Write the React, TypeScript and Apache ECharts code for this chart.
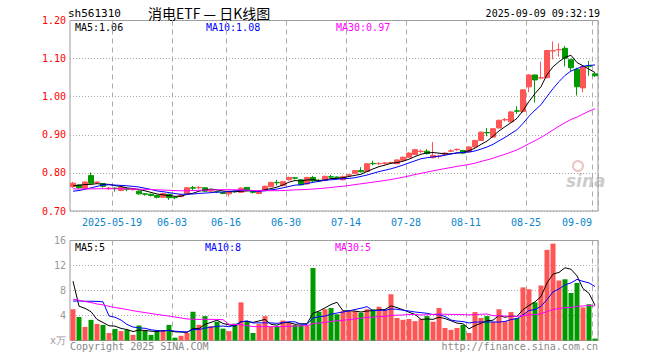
import { useEffect, useRef } from 'react';
import * as echarts from 'echarts';

const dates = [
  '2025-05-08','2025-05-09','2025-05-12','2025-05-13','2025-05-14','2025-05-15','2025-05-16','2025-05-19','2025-05-20','2025-05-21',
  '2025-05-22','2025-05-23','2025-05-26','2025-05-27','2025-05-28','2025-05-29','2025-05-30','2025-06-03','2025-06-04','2025-06-05',
  '2025-06-06','2025-06-09','2025-06-10','2025-06-11','2025-06-12','2025-06-13','2025-06-16','2025-06-17','2025-06-18','2025-06-19',
  '2025-06-20','2025-06-23','2025-06-24','2025-06-25','2025-06-26','2025-06-27','2025-06-30','2025-07-01','2025-07-02','2025-07-03',
  '2025-07-04','2025-07-07','2025-07-08','2025-07-09','2025-07-10','2025-07-11','2025-07-14','2025-07-15','2025-07-16','2025-07-17',
  '2025-07-18','2025-07-21','2025-07-22','2025-07-23','2025-07-24','2025-07-25','2025-07-28','2025-07-29','2025-07-30','2025-07-31',
  '2025-08-01','2025-08-04','2025-08-05','2025-08-06','2025-08-07','2025-08-08','2025-08-11','2025-08-12','2025-08-13','2025-08-14',
  '2025-08-15','2025-08-18','2025-08-19','2025-08-20','2025-08-21','2025-08-22','2025-08-25','2025-08-26','2025-08-27','2025-08-28',
  '2025-08-29','2025-09-01','2025-09-02','2025-09-03','2025-09-04','2025-09-05','2025-09-08','2025-09-09'
];

const labelDates = ['2025-05-19','2025-06-03','2025-06-16','2025-06-30','2025-07-14','2025-07-28','2025-08-11','2025-08-25','2025-09-09'];

const opens = [
  .764,.768,.760,.793,.775,.772,.759,.760,.754,.758,
  .756,.752,.745,.744,.741,.736,.744,.736,.738,.745,
  .761,.761,.761,.752,.751,.748,.745,.752,.749,.762,
  .751,.746,.756,.764,.775,.767,.782,.787,.782,.771,
  .788,.780,.780,.790,.789,.782,.794,.799,.806,.804,
  .825,.824,.825,.826,.824,.833,.841,.848,.856,.857,
  .840,.843,.848,.857,.861,.859,.855,.868,.885,.906,
  .894,.918,.939,.934,.963,.961,1.026,1.057,1.049,1.050,
  1.120,1.123,1.127,1.097,1.072,1.023,1.081,1.060
];
const closes = [
  .773,.761,.776,.773,.776,.765,.760,.759,.762,.757,
  .757,.745,.744,.741,.736,.746,.735,.735,.742,.761,
  .760,.762,.752,.753,.750,.746,.752,.751,.760,.754,
  .749,.751,.765,.775,.774,.777,.788,.786,.769,.788,
  .779,.779,.791,.789,.788,.790,.795,.806,.803,.824,
  .824,.825,.826,.827,.834,.841,.852,.861,.857,.851,
  .846,.844,.852,.858,.862,.852,.868,.885,.907,.905,
  .916,.938,.940,.960,.962,1.018,1.057,1.044,1.050,1.121,
  1.121,1.124,1.101,1.076,1.026,1.079,1.080,1.055
];
const lows = [
  .760,.758,.757,.772,.772,.761,.755,.751,.752,.752,
  .753,.743,.740,.738,.733,.734,.729,.731,.736,.744,
  .755,.757,.750,.749,.747,.744,.738,.748,.747,.752,
  .746,.744,.754,.762,.767,.765,.780,.783,.767,.769,
  .777,.777,.778,.786,.785,.780,.791,.797,.801,.803,
  .820,.821,.822,.823,.823,.831,.840,.847,.852,.848,
  .838,.838,.846,.855,.858,.849,.853,.866,.884,.896,
  .892,.916,.935,.932,.955,.958,1.012,.985,1.046,1.048,
  1.098,1.105,1.080,1.068,1.003,1.012,1.055,1.052
];
const highs = [
  .776,.770,.778,.801,.778,.773,.763,.762,.764,.761,
  .760,.754,.747,.745,.742,.748,.745,.738,.744,.763,
  .766,.765,.762,.756,.753,.750,.754,.754,.762,.763,
  .753,.753,.767,.777,.782,.779,.790,.789,.784,.790,
  .792,.783,.793,.795,.791,.793,.797,.808,.815,.826,
  .832,.828,.829,.830,.836,.843,.854,.863,.862,.862,
  .881,.848,.854,.862,.864,.860,.870,.887,.909,.918,
  .918,.940,.944,.963,.975,1.020,1.059,1.058,1.092,1.123,
  1.145,1.140,1.133,1.100,1.076,1.081,1.094,1.062
];
// volume in 万
const volumes = [
  5.0,3.76,2.17,3.3,2.65,2.5,1.2,1.85,1.5,1.7,
  0.9,2.4,1.55,0.9,1.5,1.55,2.5,0.45,0.75,1.2,
  4.6,2.5,3.9,2.3,3.0,1.9,1.5,2.7,6.1,3.0,
  1.2,2.65,3.9,2.2,2.3,3.2,2.8,2.5,2.5,2.4,
  11.6,4.6,5.0,5.2,4.2,4.7,4.75,4.7,4.45,5.0,
  5.0,5.4,4.9,7.4,3.6,3.3,3.45,3.1,3.45,3.9,
  3.0,5.2,2.0,1.7,2.0,2.5,1.2,4.55,3.6,3.9,
  3.0,5.0,3.1,4.55,3.6,8.5,8.2,6.1,8.8,14.5,
  15.5,9.6,9.8,7.6,9.2,5.3,5.8,0.3
];
// estimated history before the visible window (needed for the moving averages)
const prevCloses = [
  .770,.768,.772,.765,.762,.760,.766,.763,.758,.761,
  .764,.760,.757,.759,.762,.755,.758,.760,.752,.748,
  .744,.742,.738,.736,.730,.752,.768,.770,.767
];
const prevVolumes = [
  9,8.5,8,9.5,7,8,7.5,6,7,6.5,
  7,6,5.5,6,5.5,6,5,5.5,6,6,
  3.4,2.8,3.2,3.0,3.1,23.8,3.9,6.0,8.8
];

const priceMin = 0.7, priceMax = 1.2, priceStep = 0.1;
const volMin = 0, volMax = 16, volStep = 4;

const RED = '#ff5555';
const GREEN = '#009900';
const MONO = '"DejaVu Sans Mono", "Liberation Mono", monospace';
const CJK = '"Noto Sans CJK SC", sans-serif';

function movingAvg(hist: number[], data: number[], n: number): number[] {
  const all = hist.concat(data);
  return data.map((_, i) => {
    const end = hist.length + i;
    let s = 0;
    for (let k = end - n + 1; k <= end; k++) s += all[k];
    return +(s / n).toFixed(4);
  });
}

export default function App() {
  const ref = useRef<HTMLDivElement>(null);
  useEffect(() => {
    if (!ref.current) return;
    const chart = echarts.init(ref.current, null, { renderer: 'svg' });
    const ma5 = movingAvg(prevCloses, closes, 5);
    const ma10 = movingAvg(prevCloses, closes, 10);
    const ma30 = movingAvg(prevCloses, closes, 30);
    const vma5 = movingAvg(prevVolumes, volumes, 5);
    const vma10 = movingAvg(prevVolumes, volumes, 10);
    const vma30 = movingAvg(prevVolumes, volumes, 30);
    const last = dates.length - 1;
    const labelIdx = labelDates.map((d) => dates.indexOf(d));
    const isUp = (i: number) => closes[i] >= opens[i];

    const xCommon = (showLabel: boolean, gridIndex: number) => ({
      type: 'category' as const,
      gridIndex,
      data: dates,
      boundaryGap: true,
      axisLine: { show: false },
      axisTick: { show: false },
      splitLine: {
        show: true,
        interval: (i: number) => labelIdx.includes(i),
        lineStyle: { color: '#aaaaaa', type: [5, 4] as any, width: 1 },
      },
      axisLabel: showLabel
        ? {
            show: true,
            interval: (i: number) => labelIdx.includes(i),
            margin: 6,
            formatter: (v: string, i: number) => {
              const t = i === labelIdx[0] ? v : v.slice(5);
              return i === last ? `{r|${t}}` : `{c|${t}}`;
            },
            rich: {
              c: { padding: [0, 6, 0, 0], color: '#0a84cc', fontFamily: MONO, fontSize: 10 },
              r: { padding: [0, 36, 0, 0], color: '#0a84cc', fontFamily: MONO, fontSize: 10 },
            },
          }
        : { show: false },
    });

    const lineS = (data: number[], color: string, xi: number, yi: number) => ({
      type: 'line' as const,
      xAxisIndex: xi,
      yAxisIndex: yi,
      data,
      showSymbol: false,
      symbol: 'none',
      lineStyle: { color, width: 1 },
      z: 5,
    });

    const txt = (text: string, x: number, y: number, color: string, size = 10, align = 'left', family = MONO) => ({
      type: 'text' as const,
      x,
      y,
      silent: true,
      style: { text, fill: color, fontSize: size, fontFamily: family, align, verticalAlign: 'middle' },
    });

    chart.setOption({
      animation: false,
      backgroundColor: '#ffffff',
      grid: [
        { left: 70, top: 20.5, width: 528, height: 190.5, show: true, borderColor: '#999999', borderWidth: 1 },
        { left: 70, top: 240.5, width: 528, height: 100, show: true, borderColor: '#999999', borderWidth: 1 },
      ],
      xAxis: [xCommon(true, 0), xCommon(false, 1)],
      yAxis: [
        {
          type: 'value',
          gridIndex: 0,
          min: priceMin,
          max: priceMax,
          interval: priceStep,
          axisLine: { show: false },
          axisTick: { show: false },
          splitLine: { show: true, lineStyle: { color: '#aaaaaa', type: [1, 2] as any } },
          axisLabel: { color: '#ff0000', fontFamily: MONO, fontSize: 10, margin: 4, formatter: (v: number) => v.toFixed(2) },
        },
        {
          type: 'value',
          gridIndex: 1,
          min: volMin,
          max: volMax,
          interval: volStep,
          axisLine: { show: false },
          axisTick: { show: false },
          splitLine: { show: true, lineStyle: { color: '#aaaaaa', type: [1, 2] as any } },
          axisLabel: {
            color: '#999999',
            fontFamily: MONO,
            fontSize: 10,
            margin: 4,
            formatter: (v: number) => (v === 0 ? 'x万' : String(v)),
          },
        },
      ],
      series: [
        {
          type: 'candlestick',
          xAxisIndex: 0,
          yAxisIndex: 0,
          barWidth: 5,
          data: dates.map((_, i) => [opens[i], closes[i], lows[i], highs[i]]),
          itemStyle: { color: RED, color0: GREEN, borderColor: RED, borderColor0: GREEN, borderWidth: 1 },
        },
        lineS(ma5, '#000000', 0, 0),
        lineS(ma10, '#0000ff', 0, 0),
        lineS(ma30, '#ff00ff', 0, 0),
        {
          type: 'bar',
          xAxisIndex: 1,
          yAxisIndex: 1,
          barWidth: 5,
          data: volumes.map((v, i) => ({ value: v, itemStyle: { color: isUp(i) ? RED : GREEN } })),
        },
        lineS(vma5, '#000000', 1, 1),
        lineS(vma10, '#0000ff', 1, 1),
        lineS(vma30, '#ff00ff', 1, 1),
      ],
      graphic: [
        txt('sh561310', 68, 13, '#000000', 11),
        txt('消电ETF — 日K线图', 148, 13, '#000000', 14, 'left', CJK),
        txt('2025-09-09 09:32:19', 600, 13, '#000000', 10, 'right'),
        txt(`MA5:${ma5[last].toFixed(2)}`, 75, 27, '#000000'),
        txt(`MA10:${ma10[last].toFixed(2)}`, 206, 27, '#0000ff'),
        txt(`MA30:${ma30[last].toFixed(2)}`, 336, 27, '#ff00ff'),
        txt(`MA5:${Math.floor(vma5[last])}`, 75, 247, '#000000'),
        txt(`MA10:${Math.floor(vma10[last])}`, 205, 247, '#0000ff'),
        txt(`MA30:${Math.floor(vma30[last])}`, 335, 247, '#ff00ff'),
        txt('Copyright 2025 SINA.COM', 70, 346, '#888888'),
        txt('http://finance.sina.com.cn', 598, 346, '#888888', 10, 'right'),
        {
          type: 'circle',
          shape: { cx: 578, cy: 166, r: 5 },
          silent: true,
          style: { fill: 'none', stroke: 'rgba(220,150,150,0.55)', lineWidth: 2 },
        },
        {
          type: 'text',
          x: 566,
          y: 181,
          silent: true,
          style: {
            text: 'sina',
            fill: 'rgba(170,170,170,0.6)',
            fontSize: 17,
            fontWeight: 'bold',
            fontStyle: 'italic',
            fontFamily: '"DejaVu Sans", sans-serif',
            verticalAlign: 'middle',
          },
        },
      ],
    });
    return () => chart.dispose();
  }, []);
  return <div ref={ref} style={{ position: 'fixed', left: 0, top: 0, width: 660, height: 360 }} />;
}
